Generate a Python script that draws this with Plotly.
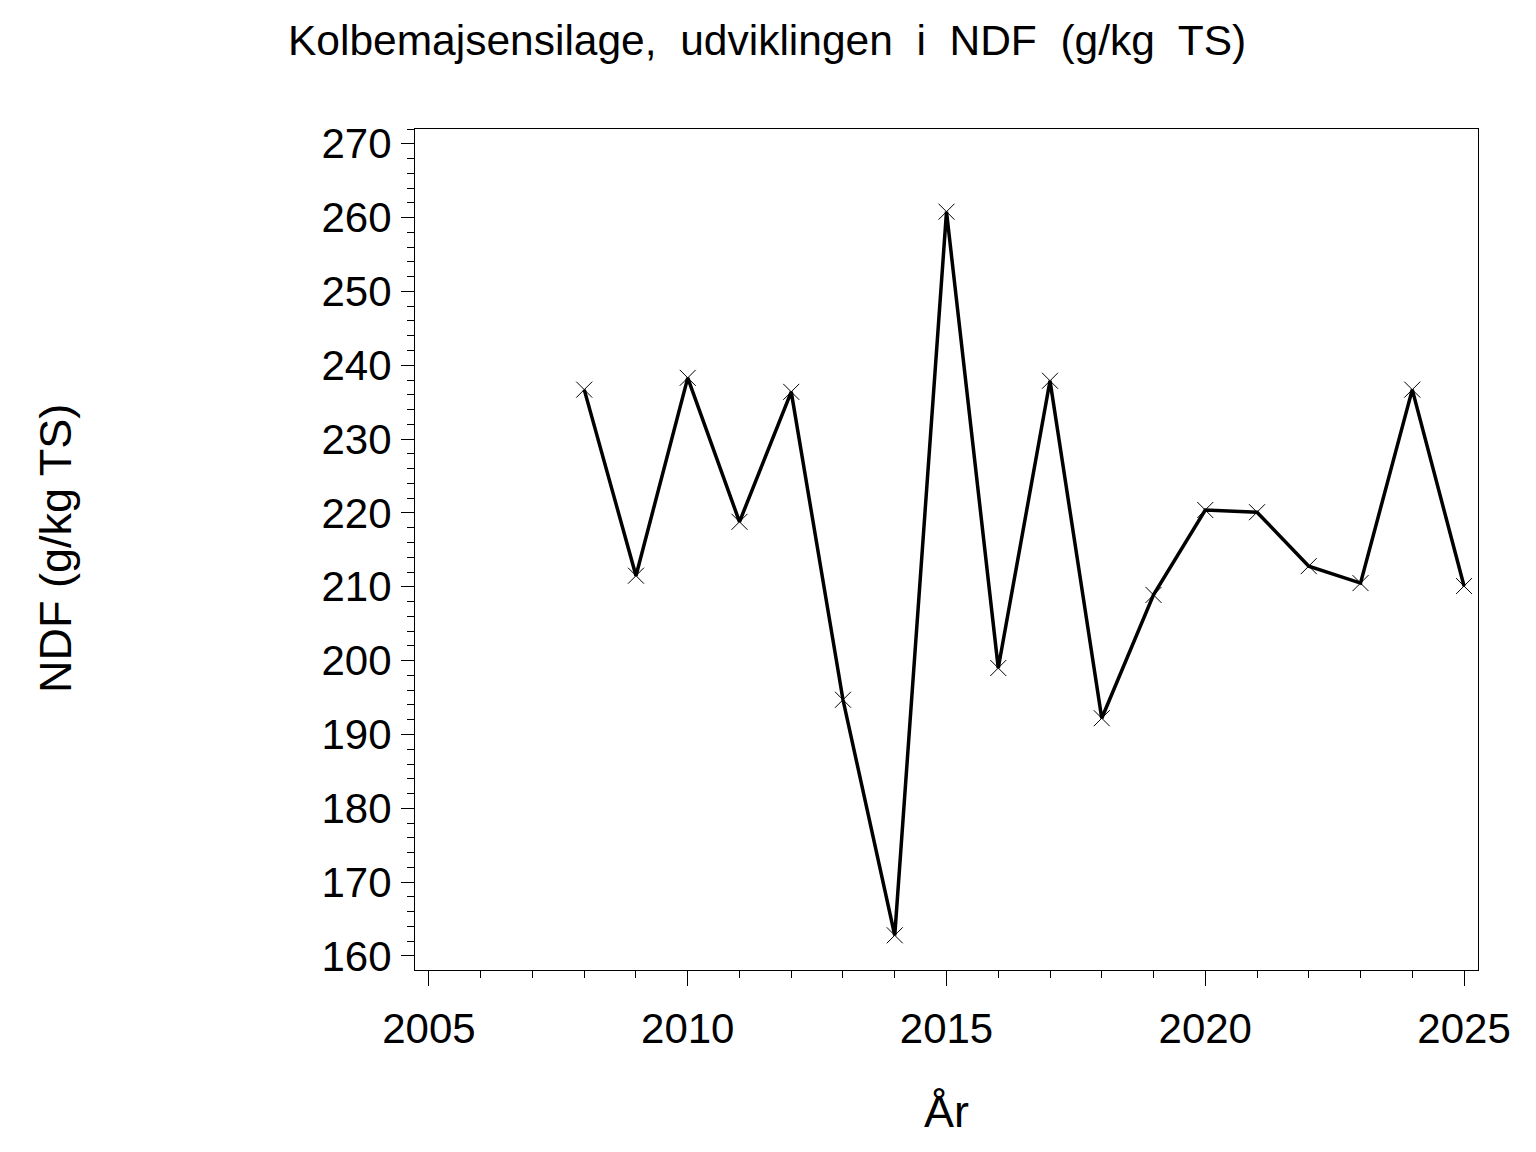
import plotly.graph_objects as go

# Årlig NDF i kolbemajsensilage (g/kg TS)
years = [2008, 2009, 2010, 2011, 2012, 2013, 2014, 2015, 2016,
         2017, 2018, 2019, 2020, 2021, 2022, 2023, 2024, 2025]
ndf = [236.7, 211.5, 238.3, 218.8, 236.4, 194.7, 162.8, 260.8, 199.0,
       237.9, 192.2, 208.9, 220.4, 220.1, 212.8, 210.5, 236.7, 210.1]

x_ticks = [2005, 2010, 2015, 2020, 2025]
y_ticks = [160, 170, 180, 190, 200, 210, 220, 230, 240, 250, 260, 270]

FONT = "Liberation Sans, Arial, sans-serif"

# marginer (siden har selv ca. 8 px forskydning)
L, R, T, B = 407, 66, 121, 190
W, H = 1536, 1152
plot_w = W - L - R
plot_h = H - T - B


def px(x_off, y_off):
    """pixel-forskydning fra plotområdets nederste venstre hjørne -> paper"""
    return x_off / plot_w, y_off / plot_h


fig = go.Figure()
fig.add_trace(go.Scatter(
    x=years,
    y=ndf,
    mode="lines+markers",
    line=dict(color="black", width=3.5),
    marker=dict(symbol="x-thin-open", size=16,
                line=dict(color="black", width=1)),
    showlegend=False,
))

tx, ty = px(352, 929)
yx, yy = px(-360, 421)
ax, ay = px(531, -141)

fig.update_layout(
    width=W,
    height=H,
    paper_bgcolor="white",
    plot_bgcolor="white",
    margin=dict(l=L, r=R, t=T, b=B),
    font=dict(family=FONT, color="black", size=42),
    annotations=[
        dict(text="Kolbemajsensilage,  udviklingen  i  NDF  (g/kg  TS)",
             x=tx, y=ty, xref="paper", yref="paper", showarrow=False,
             xanchor="center", yanchor="middle", font=dict(size=42.5)),
        dict(text="NDF (g/kg TS)",
             x=yx, y=yy, xref="paper", yref="paper", showarrow=False,
             textangle=-90, xanchor="center", yanchor="middle",
             font=dict(size=45)),
        dict(text="År",
             x=ax, y=ay, xref="paper", yref="paper", showarrow=False,
             xanchor="center", yanchor="middle", font=dict(size=45)),
    ],
)

fig.update_xaxes(
    range=[2004.73, 2025.27],
    tickvals=x_ticks,
    ticks="outside", ticklen=15, tickwidth=1, tickcolor="black",
    minor=dict(dtick=1, tick0=2005, ticks="outside", ticklen=7,
               tickwidth=1, tickcolor="black"),
    showline=True, linecolor="black", linewidth=1, mirror=True,
    showgrid=False, zeroline=False,
    ticklabelstandoff=7,
)
fig.update_yaxes(
    range=[158.1, 272.0],
    tickvals=y_ticks,
    ticks="outside", ticklen=13, tickwidth=1, tickcolor="black",
    minor=dict(dtick=2, tick0=160, ticks="outside", ticklen=7,
               tickwidth=1, tickcolor="black"),
    showline=True, linecolor="black", linewidth=1, mirror=True,
    showgrid=False, zeroline=False,
    ticklabelstandoff=1,
)

fig.write_html("out.html")
